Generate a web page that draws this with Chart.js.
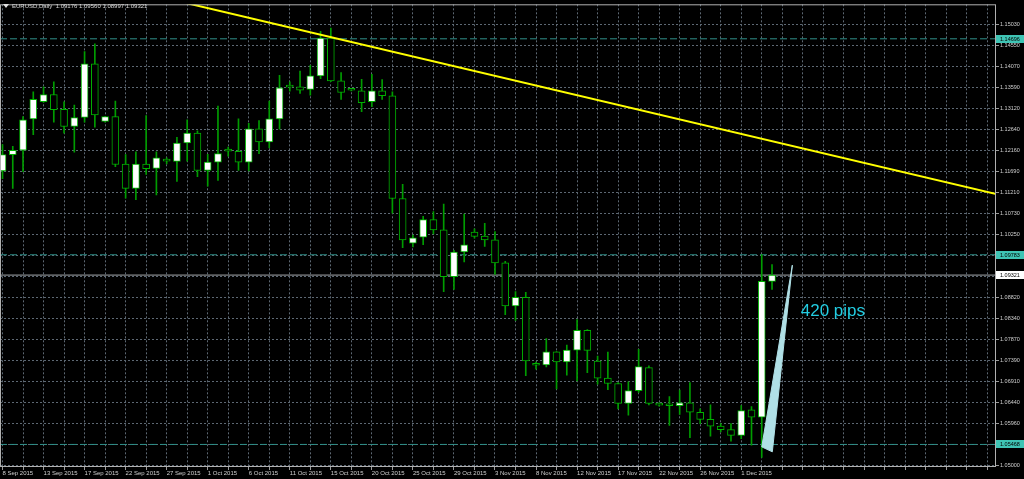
<!DOCTYPE html>
<html>
<head>
<meta charset="utf-8">
<script src="https://cdn.jsdelivr.net/npm/chart.js@4.4.0/dist/chart.umd.min.js"></script>
<style>
  html, body { margin: 0; padding: 0; background: #000; }
  #wrap { width: 1024px; height: 479px; }
</style>
</head>
<body>
<div id="wrap"><canvas id="chart" width="1024" height="479"></canvas></div>
<script>
// --- DATA ---
const symbolName = 'EURUSD';
const periodName = 'Daily';

// daily bars 8 Sep 2015 .. 4 Dec 2015, Sunday bars included
const opens = [
  1.11688, 1.12062, 1.12161, 1.12873, 1.13265, 1.13430, 1.13092, 1.12702, 1.12905, 1.14129,
  1.12815, 1.12927, 1.11845, 1.11295, 1.11845, 1.11746, 1.11924, 1.11904, 1.12326, 1.12551,
  1.11701, 1.11891, 1.12190, 1.12138, 1.11891, 1.12648, 1.12348, 1.12873, 1.13604, 1.13604,
  1.13543, 1.13851, 1.14715, 1.13739, 1.13531, 1.13513, 1.13265, 1.13513, 1.13401, 1.11063,
  1.10049, 1.10184, 1.10583, 1.10349, 1.09283, 1.09846, 1.10297, 1.10207, 1.10123, 1.09598,
  1.08622, 1.08816, 1.07315, 1.07277, 1.07576, 1.07344, 1.07615, 1.08065, 1.07367, 1.06977,
  1.06855, 1.06404, 1.06691, 1.07216, 1.06370, 1.06357, 1.06352, 1.06413, 1.06201, 1.06037,
  1.05886, 1.05805, 1.05676, 1.06255, 1.06089, 1.09176
];
const highs = [
  1.12287, 1.12251, 1.12927, 1.13491, 1.13604, 1.13716, 1.13265, 1.13189, 1.14406, 1.14580,
  1.12934, 1.13279, 1.12062, 1.12123, 1.12950, 1.12123, 1.11987, 1.12454, 1.12851, 1.12603,
  1.12066, 1.13166, 1.12235, 1.12873, 1.12776, 1.12837, 1.13279, 1.13865, 1.13716, 1.13964,
  1.14090, 1.14866, 1.14940, 1.13926, 1.13543, 1.13775, 1.13888, 1.13768, 1.13491, 1.11386,
  1.10229, 1.10658, 1.10764, 1.10935, 1.09884, 1.10709, 1.10371, 1.10500, 1.10313, 1.09636,
  1.08945, 1.08929, 1.07344, 1.07878, 1.07580, 1.07727, 1.08307, 1.08081, 1.07479, 1.07570,
  1.06878, 1.06893, 1.07630, 1.07254, 1.06413, 1.06555, 1.06706, 1.06878, 1.06278, 1.06368,
  1.05940, 1.05940, 1.06352, 1.06330, 1.09785, 1.09560
];
const lows = [
  1.11514, 1.11295, 1.11672, 1.12513, 1.13250, 1.12799, 1.12551, 1.12116, 1.12799, 1.12686,
  1.12799, 1.11785, 1.11070, 1.11034, 1.11611, 1.11147, 1.11852, 1.11453, 1.11913, 1.11559,
  1.11345, 1.11476, 1.12026, 1.11701, 1.11688, 1.12084, 1.12213, 1.12641, 1.13504, 1.13453,
  1.13414, 1.13791, 1.13723, 1.13317, 1.13509, 1.13040, 1.13153, 1.13317, 1.10732, 1.09943,
  1.09959, 1.10011, 1.10259, 1.08945, 1.08996, 1.09621, 1.10162, 1.09975, 1.09334, 1.08419,
  1.08291, 1.07035, 1.07180, 1.07231, 1.06729, 1.07044, 1.06916, 1.07103, 1.06842, 1.06713,
  1.06278, 1.06134, 1.06652, 1.06368, 1.06337, 1.05902, 1.06150, 1.05624, 1.05940, 1.05654,
  1.05751, 1.05541, 1.05602, 1.05451, 1.05174, 1.08997
];
const closes = [
  1.12062, 1.12161, 1.12851, 1.13317, 1.13430, 1.13085, 1.12702, 1.12905, 1.14129, 1.12963,
  1.12927, 1.11836, 1.11295, 1.11845, 1.11739, 1.11987, 1.11913, 1.12326, 1.12551, 1.11701,
  1.11891, 1.12084, 1.12138, 1.11891, 1.12648, 1.12348, 1.12873, 1.13581, 1.13597, 1.13527,
  1.13851, 1.14715, 1.13739, 1.13475, 1.13525, 1.13243, 1.13513, 1.13401, 1.11063, 1.10123,
  1.10168, 1.10583, 1.10349, 1.09283, 1.09846, 1.10011, 1.10200, 1.10123, 1.09598, 1.08622,
  1.08816, 1.07367, 1.07270, 1.07576, 1.07344, 1.07615, 1.08065, 1.07608, 1.06977, 1.06855,
  1.06404, 1.06691, 1.07238, 1.06404, 1.06364, 1.06348, 1.06413, 1.06201, 1.06037, 1.05886,
  1.05805, 1.05676, 1.06240, 1.06089, 1.09176, 1.09321
];

// one label every 4 bars, grid every 2 bars
const dateLabels = [
  '8 Sep 2015', '13 Sep 2015', '17 Sep 2015', '22 Sep 2015', '27 Sep 2015', '1 Oct 2015',
  '6 Oct 2015', '11 Oct 2015', '15 Oct 2015', '20 Oct 2015', '25 Oct 2015', '29 Oct 2015',
  '3 Nov 2015', '8 Nov 2015', '12 Nov 2015', '17 Nov 2015', '22 Nov 2015', '26 Nov 2015', '1 Dec 2015'
];
const yTickValues = [
  1.05000, 1.05478, 1.05955, 1.06433, 1.06910, 1.07388, 1.07866, 1.08343, 1.08821, 1.09298, 1.09776,
  1.10254, 1.10731, 1.11209, 1.11686, 1.12164, 1.12642, 1.13119, 1.13597, 1.14074, 1.14552, 1.15030
];
const yTickLabels = [
  '1.05000', '', '1.05960', '1.06440', '1.06910', '1.07390', '1.07870', '1.08340', '1.08820', '', '',
  '1.10250', '1.10730', '1.11210', '1.11690', '1.12160', '1.12640', '1.13120', '1.13590', '1.14070', '1.14550', '1.15030'
];

// objects on the chart
const levelLines = [1.14696, 1.09783, 1.05468];
const bidPrice = 1.09321;
const trendX = [10, 100];
const trendY = [1.15945, 1.10991];
const arrowX = [74.0, 75.03, 76.98, 74.0];
const arrowY = [1.05413, 1.05300, 1.09547, 1.05413];
const pipsText = '420 pips';
const pipsX = 77.8;
const pipsY = 1.08381;

// visible window (bar index / price)
const xMin = -0.2437, xMax = 96.83;
const yMin = 1.04955, yMax = 1.15481;

// --- CHART ---
const GREEN = '#00b000';
const WICK = '#009c00';
const GRID = '#5d6873';
const TEAL_LINE = '#2f8f89';
const TEAL_BOX = '#3fc4b4';

const idx = opens.map((_, i) => i);
const bodies = idx.map(i => ({ x: i, y: [opens[i], closes[i]] }));
const wicks = idx.map(i => ({ x: i, y: [lows[i], highs[i]] }));
const bodyFill = idx.map(i => closes[i] >= opens[i] ? '#ffffff' : '#000000');

const hLine = v => [{ x: xMin, y: v }, { x: xMax, y: v }];

const overlay = {
  id: 'overlay',
  afterDraw(chart) {
    const { ctx, chartArea: a, scales: { x, y } } = chart;
    ctx.save();

    // frame
    ctx.strokeStyle = '#b0b0b0';
    ctx.lineWidth = 1;
    ctx.strokeRect(a.left + 0.5, a.top + 0.5, a.right - a.left - 1, a.bottom - a.top - 1);

    // price labels of the lines on the right axis
    ctx.font = '5.5px "Liberation Sans"';
    ctx.textBaseline = 'middle';
    ctx.textAlign = 'left';
    levelLines.forEach(v => {
      const py = Math.round(y.getPixelForValue(v));
      ctx.fillStyle = TEAL_BOX;
      ctx.fillRect(a.right, py - 4, 1024 - a.right, 8);
      ctx.fillStyle = '#000';
      ctx.fillText(v.toFixed(5), a.right + 4, py + 0.5);
    });
    const by = Math.round(y.getPixelForValue(bidPrice));
    ctx.fillStyle = '#ffffff';
    ctx.fillRect(a.right, by - 4, 1024 - a.right, 8);
    ctx.fillStyle = '#000';
    ctx.fillText(bidPrice.toFixed(5), a.right + 4, by + 0.5);

    // "420 pips"
    ctx.font = '17px "Liberation Sans"';
    ctx.textBaseline = 'alphabetic';
    ctx.fillStyle = '#22cde2';
    ctx.fillText(pipsText, x.getPixelForValue(pipsX), y.getPixelForValue(pipsY));

    // header
    const n = opens.length - 1;
    ctx.fillStyle = '#e0e0e0';
    ctx.beginPath();
    ctx.moveTo(3, 4); ctx.lineTo(9, 4); ctx.lineTo(6, 8); ctx.closePath();
    ctx.fill();
    ctx.font = '6px "Liberation Sans"';
    ctx.textBaseline = 'middle';
    ctx.fillStyle = '#d8d8d8';
    ctx.fillText(`${symbolName},${periodName}  ${opens[n].toFixed(5)} ${highs[n].toFixed(5)} ${lows[n].toFixed(5)} ${closes[n].toFixed(5)}`, 12, 6.5);
    ctx.restore();
  }
};

new Chart(document.getElementById('chart'), {
  type: 'bar',
  data: {
    datasets: [
      {
        type: 'line', data: arrowX.map((v, i) => ({ x: v, y: arrowY[i] })),
        borderColor: '#b0e0e6', backgroundColor: '#b0e0e6', borderWidth: 1,
        pointRadius: 0, fill: 'shape', order: 0
      },
      {
        type: 'line', data: trendX.map((v, i) => ({ x: v, y: trendY[i] })),
        borderColor: '#ffff00', borderWidth: 2, pointRadius: 0, order: 1
      },
      ...levelLines.map(v => ({
        type: 'line', data: hLine(v), borderColor: TEAL_LINE, borderWidth: 1,
        borderDash: [7, 3], pointRadius: 0, order: 4
      })),
      {
        type: 'line', data: hLine(bidPrice), borderColor: '#a4a8ac', borderWidth: 1,
        pointRadius: 0, order: 4
      },
      {
        label: 'bodies', data: bodies, grouped: false, barThickness: 7,
        backgroundColor: bodyFill, borderColor: GREEN, borderWidth: 1,
        borderSkipped: false, minBarLength: 2, order: 2
      },
      {
        label: 'wicks', data: wicks, grouped: false, barThickness: 1,
        backgroundColor: WICK, borderWidth: 0, order: 3
      }
    ]
  },
  options: {
    responsive: false,
    animation: false,
    devicePixelRatio: 1,
    layout: { padding: 0 },
    plugins: { legend: { display: false }, tooltip: { enabled: false } },
    scales: {
      x: {
        type: 'linear', min: xMin, max: xMax, offset: false,
        afterBuildTicks: s => { s.ticks = []; for (let v = 0; v <= 96; v += 2) s.ticks.push({ value: v }); },
        afterFit: s => { s.height = 12; },
        grid: { color: GRID, offset: false, tickLength: 3, tickColor: '#9a9a9a', tickBorderDash: [] },
        border: { display: false, dash: [2, 2] },
        ticks: {
          autoSkip: false, maxRotation: 0, minRotation: 0, align: 'start', padding: 0,
          color: '#cfcfcf', font: { family: 'Liberation Sans', size: 6 },
          callback: v => (v % 4 === 0 && dateLabels[v / 4]) ? dateLabels[v / 4] : ''
        }
      },
      y: {
        position: 'right', min: yMin, max: yMax,
        afterBuildTicks: s => { s.ticks = yTickValues.map(v => ({ value: v })); },
        afterFit: s => { s.width = 28; },
        grid: { color: GRID, tickLength: 3, tickColor: '#9a9a9a', tickBorderDash: [] },
        border: { display: false, dash: [2, 2] },
        ticks: {
          autoSkip: false, padding: 1, color: '#cfcfcf', font: { family: 'Liberation Sans', size: 5.5 },
          callback: (v, i) => yTickLabels[i]
        }
      }
    }
  },
  plugins: [overlay]
});
</script>
</body>
</html>
